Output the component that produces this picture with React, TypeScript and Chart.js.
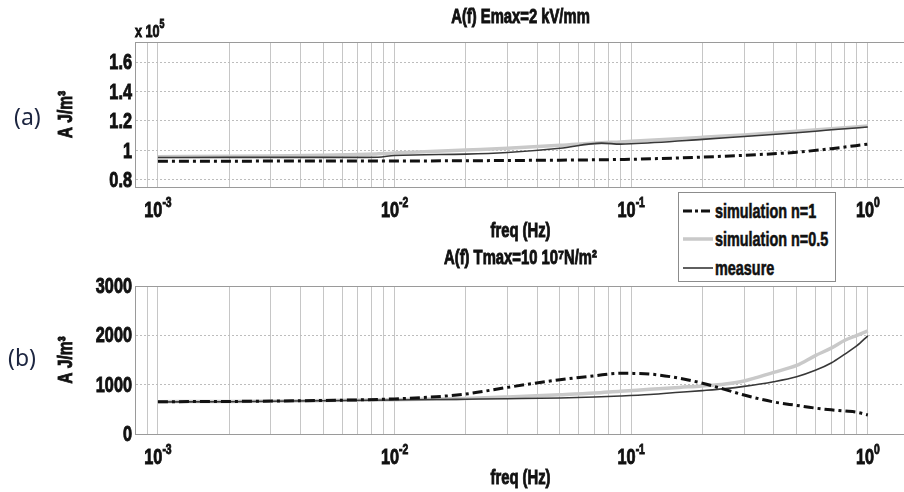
import React, { useEffect, useRef } from "react";
import { Chart, registerables } from "chart.js";
Chart.register(...registerables);

const FONT = '"Liberation Sans", Arial, sans-serif';
const SX = 0.74; // horizontal condensing of the narrow lettering

// ---- data (top panel, values in units of 1e5 J/m^3) ----
const freqA = [0.001, 0.002, 0.003, 0.005, 0.007, 0.0085, 0.01, 0.02, 0.03, 0.05, 0.075, 0.09, 0.1, 0.2, 0.3, 0.5, 0.7, 1];
const simN1A = [0.927, 0.927, 0.928, 0.928, 0.929, 0.929, 0.929, 0.93, 0.932, 0.934, 0.937, 0.939, 0.94, 0.955, 0.967, 0.988, 1.012, 1.043];
const simN05A = [0.958, 0.96, 0.962, 0.967, 0.972, 0.977, 0.982, 1.003, 1.015, 1.035, 1.053, 1.058, 1.062, 1.089, 1.105, 1.13, 1.147, 1.166];
const measureA = [0.952, 0.953, 0.953, 0.953, 0.953, 0.954, 0.966, 0.975, 0.986, 1.015, 1.05, 1.043, 1.045, 1.075, 1.095, 1.12, 1.14, 1.159];

// ---- data (bottom panel, J/m^3) ----
const freqB = [0.001, 0.002, 0.005, 0.01, 0.015, 0.02, 0.03, 0.05, 0.07, 0.09, 0.12, 0.16, 0.2, 0.25, 0.3, 0.4, 0.5, 0.6, 0.7, 0.8, 0.9, 1];
const simN1B = [655, 660, 680, 712, 755, 810, 945, 1100, 1180, 1230, 1215, 1130, 1030, 900, 790, 650, 580, 525, 490, 465, 440, 385];
const simN05B = [655, 660, 678, 695, 708, 720, 750, 795, 830, 868, 905, 945, 975, 1015, 1075, 1250, 1390, 1590, 1740, 1900, 2000, 2090];
const measureB = [650, 655, 675, 690, 698, 705, 715, 730, 750, 770, 800, 845, 880, 920, 965, 1060, 1160, 1290, 1440, 1620, 1790, 1990];

// ---- labels / ticks ----
const seriesNames = ["simulation n=1", "simulation n=0.5", "measure"];
const xDecades = [0.001, 0.01, 0.1, 1];
const xDecadeExponents = ["-3", "-2", "-1", "0"];
const yTicksA = [0.8, 1, 1.2, 1.4, 1.6];
const yTicksB = [0, 1000, 2000, 3000];
const titleA = "A(f) Emax=2 kV/mm";
const titleB = "A(f) Tmax=10 10\u2077N/m\u00B2";
const xTitle = "freq (Hz)";
const yTitle = "A J/m\u00B3";

const X_MIN = 0.0008;
const X_MAX = 1.45;

const seriesStyle = [
  { color: "#111111", width: 3, dash: [10, 4, 3, 4], order: 0 },
  { color: "#c9c9c9", width: 3.5, dash: [] as number[], order: 2 },
  { color: "#383838", width: 1.6, dash: [] as number[], order: 1 },
];

function drawText(ctx: any, text: string, x: number, y: number, size: number, align: string, baseline: string, rotate = 0) {
  ctx.save();
  ctx.translate(x, y);
  if (rotate) ctx.rotate(rotate);
  ctx.scale(SX, 1);
  ctx.font = `bold ${size}px ${FONT}`;
  ctx.fillStyle = "#111";
  ctx.strokeStyle = "#111";
  ctx.lineWidth = 0.9;
  ctx.textAlign = align;
  ctx.textBaseline = baseline;
  ctx.fillText(text, 0, 0);
  ctx.strokeText(text, 0, 0);
  ctx.restore();
}

function textWidth(ctx: any, text: string, size: number) {
  ctx.save();
  ctx.font = `bold ${size}px ${FONT}`;
  const w = ctx.measureText(text).width * SX;
  ctx.restore();
  return w;
}

function makeTextPlugin(title: string, titleY: number, yTicks: number[], showExp: boolean) {
  return {
    id: "condensedText",
    afterDraw(chart: any) {
      const { ctx, chartArea } = chart;
      const xs = chart.scales.x;
      const ys = chart.scales.y;
      const cx = (chartArea.left + chartArea.right) / 2;
      // frame
      ctx.save();
      ctx.strokeStyle = "#9a9a9a";
      ctx.lineWidth = 1;
      ctx.strokeRect(chartArea.left + 0.5, chartArea.top + 0.5, chartArea.right - chartArea.left, chartArea.bottom - chartArea.top);
      ctx.restore();
      // title
      drawText(ctx, title, cx, titleY, 20, "center", "middle");
      // x decade labels with exponent
      xDecades.forEach((d, i) => {
        const px = xs.getPixelForValue(d);
        const w1 = textWidth(ctx, "10", 22);
        const w2 = textWidth(ctx, xDecadeExponents[i], 14);
        const x0 = px - (w1 + w2) / 2;
        const base = chartArea.bottom + 30;
        drawText(ctx, "10", x0, base, 22, "left", "alphabetic");
        drawText(ctx, xDecadeExponents[i], x0 + w1, base - 10, 14, "left", "alphabetic");
      });
      // x title
      drawText(ctx, xTitle, cx, chartArea.bottom + 44, 20, "center", "middle");
      // y ticks
      yTicks.forEach((v) => {
        const py = ys.getPixelForValue(v);
        drawText(ctx, String(v), chartArea.left - 3, py + 1, 22, "right", "middle");
      });
      // y title
      drawText(ctx, yTitle, 66, (chartArea.top + chartArea.bottom) / 2, 21, "center", "middle", -Math.PI / 2);
      // exponent multiplier
      if (showExp) {
        const w = textWidth(ctx, "x 10", 17);
        drawText(ctx, "x 10", chartArea.left, 37, 17, "left", "alphabetic");
        drawText(ctx, "5", chartArea.left + w, 28, 12, "left", "alphabetic");
      }
    },
  };
}

function makeConfig(freq: number[], s1: number[], s05: number[], meas: number[], yMin: number, yMax: number, yTicks: number[], title: string, titleY: number, topPad: number, showExp: boolean) {
  const pts = (arr: number[]) => arr.map((y, i) => ({ x: freq[i], y }));
  const series = [s1, s05, meas];
  return {
    type: "line",
    data: {
      datasets: series.map((s, i) => ({
        label: seriesNames[i],
        data: pts(s),
        borderColor: seriesStyle[i].color,
        borderWidth: seriesStyle[i].width,
        borderDash: seriesStyle[i].dash,
        pointRadius: 0,
        cubicInterpolationMode: "monotone",
        order: seriesStyle[i].order,
        fill: false,
      })),
    },
    options: {
      animation: false,
      responsive: false,
      devicePixelRatio: 1,
      layout: { padding: { left: 0, right: 4, top: topPad, bottom: 0 } },
      plugins: {
        legend: { display: false },
        tooltip: { enabled: false },
        title: { display: false },
      },
      scales: {
        x: {
          type: "logarithmic",
          min: X_MIN,
          max: X_MAX,
          afterBuildTicks: (s: any) => {
            const t: any[] = [];
            for (let e = -4; e <= 0; e++) {
              for (let m = 1; m <= 9; m++) {
                const v = +(m * Math.pow(10, e)).toPrecision(6);
                if (v >= X_MIN - 1e-12 && v <= X_MAX) t.push({ value: v });
              }
            }
            s.ticks = t;
          },
          afterFit: (s: any) => {
            s.height = 58;
          },
          ticks: { display: false, autoSkip: false },
          grid: { color: "#c6c6c6", lineWidth: 1, drawTicks: false },
          border: { color: "#9a9a9a" },
        },
        y: {
          type: "linear",
          min: yMin,
          max: yMax,
          afterBuildTicks: (s: any) => {
            s.ticks = yTicks.map((v) => ({ value: v }));
          },
          afterFit: (s: any) => {
            s.width = 135;
          },
          ticks: { display: false, autoSkip: false },
          grid: { color: "#bdbdbd", lineWidth: 1, drawTicks: false },
          border: { color: "#9a9a9a", dash: [2, 2] },
        },
      },
    },
    plugins: [makeTextPlugin(title, titleY, yTicks, showExp)],
  } as any;
}

export default function App() {
  const topRef = useRef<HTMLCanvasElement>(null);
  const botRef = useRef<HTMLCanvasElement>(null);

  useEffect(() => {
    const c1 = new Chart(
      topRef.current as HTMLCanvasElement,
      makeConfig(freqA, simN1A, simN05A, measureA, 0.752, 1.736, yTicksA, titleA, 17, 42, true)
    );
    const c2 = new Chart(
      botRef.current as HTMLCanvasElement,
      makeConfig(freqB, simN1B, simN05B, measureB, 0, 3000, yTicksB, titleB, 13, 41, false)
    );
    return () => {
      c1.destroy();
      c2.destroy();
    };
  }, []);

  const legendRowsTop = [6, 34, 63];

  return (
    <div style={{ position: "fixed", left: 0, top: 0, width: 904, height: 492, overflow: "hidden", background: "#fff" }}>
      <canvas ref={topRef} width={910} height={245} style={{ position: "absolute", left: 0, top: 0 }} />
      <canvas ref={botRef} width={910} height={247} style={{ position: "absolute", left: 0, top: 245 }} />
      <div style={{ position: "absolute", left: 14, top: 102, fontFamily: '"Noto Sans", "Open Sans", sans-serif', fontSize: 23, lineHeight: "28px", color: "#1c2540" }}>(a)</div>
      <div style={{ position: "absolute", left: 8, top: 343, fontFamily: '"Noto Sans", "Open Sans", sans-serif', fontSize: 23, lineHeight: "28px", color: "#1c2540" }}>(b)</div>
      <div style={{ position: "absolute", left: 678, top: 192, width: 156, height: 88, border: "1px solid #8c8c8c", background: "#fff", fontFamily: FONT, fontWeight: "bold", fontSize: 20, color: "#111" }}>
        {seriesNames.map((name, i) => (
          <div key={name} style={{ position: "absolute", left: 4, top: legendRowsTop[i], height: 24, display: "flex", alignItems: "center", whiteSpace: "nowrap" }}>
            <svg width={30} height={8} style={{ display: "block" }}>
              <line x1={0} y1={4} x2={30} y2={4} stroke={seriesStyle[i].color} strokeWidth={seriesStyle[i].width} strokeDasharray={seriesStyle[i].dash.length ? "9 3 3 3" : undefined} />
            </svg>
            <span style={{ marginLeft: 2, display: "inline-block", transform: `scaleX(0.72)`, transformOrigin: "left center", WebkitTextStroke: "0.6px #111" }}>{name}</span>
          </div>
        ))}
      </div>
    </div>
  );
}
